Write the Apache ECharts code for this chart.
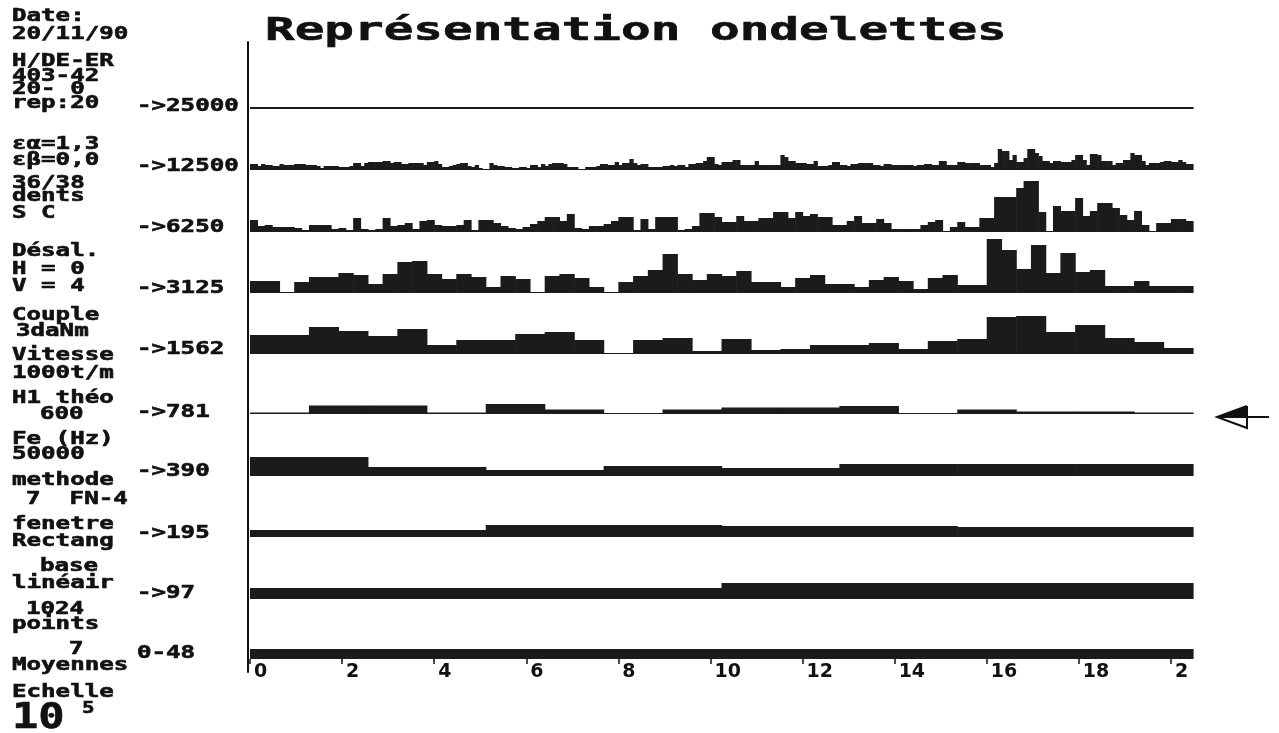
<!DOCTYPE html>
<html>
<head>
<meta charset="utf-8">
<script src="https://cdn.jsdelivr.net/npm/echarts@6/dist/echarts.min.js"></script>
<style>html,body{margin:0;padding:0;background:#fff;}#c{width:1279px;height:733px;}</style>
</head>
<body>
<div id="c"></div>
<script>
// ---------- data (band amplitudes, arbitrary units) ----------
const SPAN = 20.48;                       // time span of the x axis
const tickValues = [0, 2, 4, 6, 8, 10, 12, 14, 16, 18, 20];
const tickLabels = ['0', '2', '4', '6', '8', '10', '12', '14', '16', '18', '2'];
const title = 'Représentation ondelettes';
const rowLabels = ['->25000', '->12500', '->6250', '->3125', '->1562', '->781', '->390', '->195', '->97', '0-48'];
const infoLines = ['Date:', '20/11/90', 'H/DE-ER', '403-42', '20- 0', 'rep:20', 'εα=1,3', 'εβ=0,0',
  '36/38', 'dents', 'S C', 'Désal.', 'H = 0', 'V = 4', 'Couple', '3daNm', 'Vitesse', '1000t/m',
  'H1 théo', '600', 'Fe (Hz)', '50000', 'methode', '7  FN-4', 'fenetre', 'Rectang', 'base',
  'linéair', '1024', 'points', '7', 'Moyennes', 'Echelle'];
const scaleBase = '10';
const scaleExp = '5';

const r25000 = [2,2,2,2,2,2,2,2,2,2,2,2,2,2,2,2,2,2,2,2,2,2,2,2,2,2,2,2,2,2,2,2];
const r12500 = [
  6,6,4,6,5,5,4,4, 6,5,5,5,6,6,6,5, 5,5,4,2,4,4,4,4, 3,3,3,4,7,7,4,7,
  8,8,8,8,9,9,7,8, 8,6,6,7,7,7,7,5, 8,8,9,6,3,3,4,5, 6,7,7,4,3,5,2,1,
  1,7,5,4,4,3,3,2, 2,3,3,2,5,5,3,6, 4,6,7,7,7,6,3,3, 3,1,1,3,3,3,4,6,
  6,5,5,8,5,7,7,11, 7,5,6,6,3,3,3,3, 4,4,5,4,5,5,3,6, 6,7,7,9,13,13,6,5,
  8,8,8,10,10,5,5,5, 5,9,5,5,5,5,5,5, 15,13,9,9,7,7,7,6, 6,9,4,4,4,5,8,8,
  5,5,4,6,6,7,7,7, 7,5,5,4,6,6,5,5, 5,5,5,5,4,5,5,6, 6,5,5,9,9,5,5,5,
  8,8,7,7,7,7,5,5, 5,3,7,21,19,19,10,15, 8,8,12,21,21,17,14,9, 9,7,9,9,8,8,8,10,
  15,15,10,5,16,16,15,9, 9,9,5,7,7,10,10,17, 15,15,9,5,7,7,7,8, 9,9,8,8,10,8,6,6];
const r6250 = [
  12,6,7,5,5,5,4,2, 7,7,7,3,4,2,14,3, 2,3,14,6,7,9,3,11, 12,7,6,6,7,12,2,12,
  12,9,6,4,3,5,8,11, 15,15,11,18,4,3,6,6, 8,11,15,15,2,13,3,15, 15,15,2,3,6,19,19,15,
  10,10,16,11,11,14,14,20, 20,14,20,16,18,15,15,7, 7,11,16,9,9,13,9,3, 3,3,3,7,10,12,1,5,
  10,5,5,14,14,35,35,35, 44,51,51,20,1,26,21,21, 34,16,21,29,29,24,17,12, 21,7,1,9,9,13,13,11];
const r3125 = [
  12,12,1,11,16,16,20,18, 9,19,31,32,19,14,19,16, 6,17,14,1,17,19,15,6, 1,11,17,23,39,19,13,19,
  17,22,11,11,6,15,18,9, 9,6,13,16,12,4,15,18, 8,8,54,43,24,48,20,40, 21,23,7,7,12,7,7,7];
const r1562 = [19,19,27,23,18,25,9,14, 14,20,22,14,1,14,16,3, 15,4,5,9,9,11,5,13, 15,37,38,22,29,16,12,6];
const r781 = [1.5,8.5,8.5,1.5,10,4.5,1,4.5, 6.5,6.5,8,1,4.5,2.5,2.5,1.5];
const r390 = [19,9,6,10,8,12,12,12];
const r195 = [7,12,11,10];
const r97 = [11,16];
const r0_48 = [10];
const rows = [r25000, r12500, r6250, r3125, r1562, r781, r390, r195, r97, r0_48];

// ---------- layout & style ----------
const INK = '#111111';
const BAR = '#1b1b1b';
const PLOT_LEFT = 250, PLOT_RIGHT = 1193;
const GRID_H = 58;
const baselines = [109, 170, 232, 293, 354, 414, 476, 537, 599, 659];
const rowLabelTops = [100, 160, 221, 282, 343, 406, 465, 527, 587, 647];
const infoPos = [[12,10],[12,28],[12,55],[12,70],[12,83],[12,97],[12,138],[12,154],
  [12,177],[12,190],[12,207],[12,245],[12,263],[12,280],[12,309],[16,325],[12,349],[12,367],
  [12,392],[40,408],[12,433],[12,448],[12,474],[26,493],[12,518],[12,535],[40,560],
  [12,577],[26,603],[12,618],[69,643],[12,659],[12,686]];
const MONO = '"DejaVu Sans Mono"';
const SMALL_SIZE = 17, SMALL_SX = 1.42;

const grids = [], xAxes = [], yAxes = [], series = [];
rows.forEach((vals, i) => {
  grids.push({ left: PLOT_LEFT, width: PLOT_RIGHT - PLOT_LEFT, top: baselines[i] - GRID_H, height: GRID_H });
  const last = i === rows.length - 1;
  xAxes.push(last ? {
    gridIndex: i, type: 'value', min: 0, max: SPAN, interval: 2,
    axisLine: { show: false }, splitLine: { show: false },
    axisTick: { show: true, length: 5, customValues: tickValues, lineStyle: { color: INK, width: 1.5 } },
    axisLabel: {
      customValues: tickValues,
      formatter: v => { const k = tickValues.indexOf(v); return k >= 0 ? tickLabels[k] : ''; },
      align: 'left', padding: [0, 0, 0, 4], margin: 4,
      fontFamily: '"DejaVu Sans"', fontWeight: 'bold', fontSize: 19, color: INK
    }
  } : { gridIndex: i, type: 'value', min: 0, max: SPAN, show: false });
  yAxes.push({ gridIndex: i, type: 'value', min: 0, max: GRID_H, show: false });
  const w = SPAN / vals.length;
  series.push({
    type: 'custom', xAxisIndex: i, yAxisIndex: i, silent: true,
    data: vals.map((v, k) => [k * w, (k + 1) * w, v]),
    encode: { x: [0, 1], y: 2 },
    renderItem: (params, api) => {
      const a = api.coord([api.value(0), api.value(2)]);
      const b = api.coord([api.value(1), 0]);
      return { type: 'rect', shape: { x: a[0], y: a[1], width: b[0] - a[0] + 0.6, height: b[1] - a[1] },
               style: { fill: BAR } };
    }
  });
});
// frame grid for the vertical axis line
grids.push({ left: 248, top: 42, width: 10, height: 630 });
xAxes.push({ gridIndex: rows.length, type: 'value', min: 0, max: 1, show: false });
yAxes.push({ gridIndex: rows.length, type: 'value', min: 0, max: 1,
  axisLine: { show: true, lineStyle: { color: INK, width: 2 } },
  axisTick: { show: false }, axisLabel: { show: false }, splitLine: { show: false } });

function txt(text, x, y, size, weight, sx) {
  const font = weight + ' ' + size + 'px ' + MONO;
  return { type: 'text', x: x, y: y, scaleX: sx, silent: true,
    style: { text: text, font: font, fontSize: size, fontWeight: weight, fontFamily: MONO,
             fill: INK, stroke: INK, lineWidth: weight === 'bold' ? 0.6 : 0.9,
             verticalAlign: 'top', textVerticalAlign: 'top', align: 'left' } };
}
const graphic = [];
graphic.push(txt(title, 265, 16, 32, 'bold', 1.54));
infoLines.forEach((t, k) => graphic.push(txt(t, infoPos[k][0], infoPos[k][1] - 1.5, SMALL_SIZE, 'bold', SMALL_SX)));
rowLabels.forEach((t, k) => graphic.push(txt(t, 137, rowLabelTops[k] - 1.5, SMALL_SIZE, 'bold', SMALL_SX)));
graphic.push(txt(scaleBase, 12, 701, 35, 'bold', 1.25));
graphic.push(txt(scaleExp, 82, 701, 16, 'bold', 1.3));
// arrow marker on the right
graphic.push({ type: 'polygon', silent: true, shape: { points: [[1217, 417], [1247, 406], [1247, 417]] }, style: { fill: INK } });
graphic.push({ type: 'polyline', silent: true, shape: { points: [[1247, 406], [1217, 417], [1247, 428], [1247, 406]] },
  style: { stroke: INK, lineWidth: 2, fill: null } });
graphic.push({ type: 'line', silent: true, shape: { x1: 1217, y1: 417, x2: 1269, y2: 417 }, style: { stroke: INK, lineWidth: 2 } });

const chart = echarts.init(document.getElementById('c'), null, { renderer: 'canvas' });
chart.setOption({
  animation: false, backgroundColor: '#ffffff',
  grid: grids, xAxis: xAxes, yAxis: yAxes, series: series, graphic: graphic
});
</script>
</body>
</html>
